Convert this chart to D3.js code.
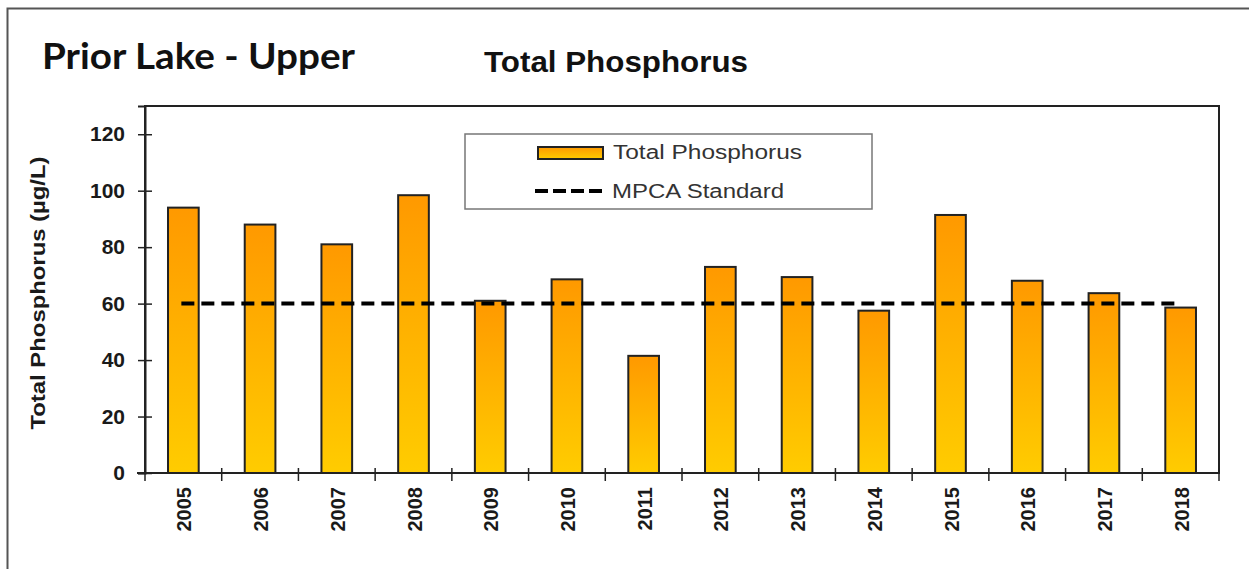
<!DOCTYPE html>
<html>
<head>
<meta charset="utf-8">
<script src="https://cdn.jsdelivr.net/npm/d3@7"></script>
<style>
  body { margin: 0; background: #fff; }
  svg { display: block; font-family: "Liberation Sans", Arial, sans-serif; }
</style>
</head>
<body>
<div id="chart"></div>
<script>
// values
const years = ["2005", "2006", "2007", "2008", "2009", "2010", "2011",
               "2012", "2013", "2014", "2015", "2016", "2017", "2018"];
const phosphorus = [94, 88, 81, 98.4, 61, 68.6, 41.5, 73, 69.4, 57.5, 91.4, 68.1, 63.7, 58.6];
const mpcaStandard = 60;
const yTicks = [0, 20, 40, 60, 80, 100, 120];

const width = 1249, height = 569;
const plot = {left: 145, top: 106, right: 1219, bottom: 473};

const svg = d3.select("#chart").append("svg")
  .attr("width", width)
  .attr("height", height);

// gradient for the bars, orange on top, yellow at the bottom
const defs = svg.append("defs");
const grad = defs.append("linearGradient")
  .attr("id", "barGrad")
  .attr("x1", 0).attr("y1", 0).attr("x2", 0).attr("y2", 1);
grad.append("stop").attr("offset", "0%").attr("stop-color", "#ff9900");
grad.append("stop").attr("offset", "100%").attr("stop-color", "#ffcc00");

// outer frame (runs off the right and bottom edges)
svg.append("rect")
  .attr("x", 7.5).attr("y", 8.5)
  .attr("width", 1260).attr("height", 600)
  .attr("fill", "none")
  .attr("stroke", "#555")
  .attr("stroke-width", 2);

const x = d3.scaleBand().domain(years).range([plot.left, plot.right]).padding(0);
const y = d3.scaleLinear().domain([0, 130]).range([plot.bottom, plot.top]);

// plot frame
svg.append("rect")
  .attr("x", plot.left).attr("y", plot.top)
  .attr("width", plot.right - plot.left)
  .attr("height", plot.bottom - plot.top)
  .attr("fill", "none")
  .attr("stroke", "#222")
  .attr("stroke-width", 2);

// bars
const barW = x.bandwidth() * 0.4;
svg.append("g").selectAll("rect")
  .data(phosphorus)
  .enter()
  .append("rect")
  .attr("x", (d, i) => x(years[i]) + (x.bandwidth() - barW) / 2)
  .attr("y", d => y(d))
  .attr("width", barW)
  .attr("height", d => y(0) - y(d))
  .attr("fill", "url(#barGrad)")
  .attr("stroke", "#222")
  .attr("stroke-width", 2);

// MPCA standard line, from first to last bar centre
svg.append("line")
  .attr("x1", x(years[0]) + x.bandwidth() / 2 - 2)
  .attr("x2", x(years[years.length - 1]) + x.bandwidth() / 2 - 3)
  .attr("y1", y(mpcaStandard))
  .attr("y2", y(mpcaStandard))
  .attr("stroke", "#000")
  .attr("stroke-width", 4)
  .attr("stroke-dasharray", "13,7");

// y axis, ticks cross the line
const yAxis = svg.append("g")
  .attr("transform", `translate(${plot.left},0)`)
  .call(d3.axisLeft(y).tickValues(yTicks).tickSize(7).tickPadding(13));
yAxis.select(".domain").attr("stroke", "#222").attr("stroke-width", 2);
yAxis.selectAll(".tick line").attr("stroke", "#222").attr("stroke-width", 1.5).attr("x2", 7).attr("x1", -7);
yAxis.selectAll(".tick text")
  .style("font-family", "'Liberation Sans', Arial, sans-serif")
  .attr("font-size", 21)
  .attr("font-weight", "bold")
  .attr("fill", "#1a1a1a");

// x axis, ticks at band edges
const xAxis = svg.append("g")
  .attr("transform", `translate(0,${plot.bottom})`);
xAxis.append("line")
  .attr("x1", plot.left - 8).attr("x2", plot.right)
  .attr("stroke", "#222").attr("stroke-width", 2);
xAxis.selectAll(".edge")
  .data(years.concat(["end"]))
  .enter()
  .append("line")
  .attr("class", "edge")
  .attr("x1", (d, i) => plot.left + i * x.bandwidth())
  .attr("x2", (d, i) => plot.left + i * x.bandwidth())
  .attr("y1", -5).attr("y2", 8)
  .attr("stroke", "#222").attr("stroke-width", 1.5);
xAxis.selectAll(".yr")
  .data(years)
  .enter()
  .append("text")
  .attr("class", "yr")
  .attr("transform", d => `translate(${x(d) + x.bandwidth() / 2 + 1},14) rotate(-90)`)
  .attr("text-anchor", "end")
  .attr("dy", "0.35em")
  .attr("font-size", 20)
  .attr("font-weight", "bold")
  .attr("fill", "#1a1a1a")
  .text(d => d);

// y axis title
svg.append("text")
  .attr("transform", "translate(45,293) rotate(-90)")
  .attr("text-anchor", "middle")
  .attr("font-size", 20)
  .attr("font-weight", "bold")
  .attr("fill", "#1a1a1a")
  .attr("textLength", 273)
  .attr("lengthAdjust", "spacingAndGlyphs")
  .text("Total Phosphorus (µg/L)");

// titles
svg.append("text")
  .attr("x", 42).attr("y", 69)
  .style("font-family", "Lato, 'Open Sans', sans-serif")
  .attr("font-size", 37)
  .attr("font-weight", "bold")
  .attr("fill", "#111")
  .attr("textLength", 313)
  .attr("lengthAdjust", "spacingAndGlyphs")
  .text("Prior Lake - Upper");

svg.append("text")
  .attr("x", 484).attr("y", 72)
  .attr("font-size", 29)
  .attr("font-weight", "bold")
  .attr("fill", "#111")
  .attr("textLength", 264)
  .attr("lengthAdjust", "spacingAndGlyphs")
  .text("Total Phosphorus");

// legend
const legend = svg.append("g");
legend.append("rect")
  .attr("x", 465).attr("y", 134)
  .attr("width", 407).attr("height", 75)
  .attr("fill", "#fff")
  .attr("stroke", "#777")
  .attr("stroke-width", 1.5);
legend.append("rect")
  .attr("x", 538).attr("y", 147)
  .attr("width", 65).attr("height", 12)
  .attr("fill", "url(#barGrad)")
  .attr("stroke", "#222")
  .attr("stroke-width", 2);
legend.append("text")
  .attr("x", 613).attr("y", 159)
  .attr("font-size", 20)
  .attr("fill", "#333")
  .attr("textLength", 189)
  .attr("lengthAdjust", "spacingAndGlyphs")
  .text("Total Phosphorus");
legend.append("line")
  .attr("x1", 535).attr("x2", 606)
  .attr("y1", 191).attr("y2", 191)
  .attr("stroke", "#000")
  .attr("stroke-width", 4)
  .attr("stroke-dasharray", "13,5");
legend.append("text")
  .attr("x", 612).attr("y", 198)
  .attr("font-size", 20)
  .attr("fill", "#333")
  .attr("textLength", 172)
  .attr("lengthAdjust", "spacingAndGlyphs")
  .text("MPCA Standard");
</script>
</body>
</html>
